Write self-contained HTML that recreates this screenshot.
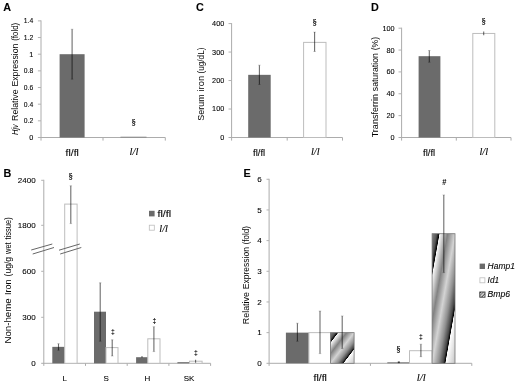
<!DOCTYPE html>
<html><head><meta charset="utf-8"><title>Figure</title>
<style>
html,body{margin:0;padding:0;background:#fff;}
svg{display:block;font-family:"Liberation Sans",sans-serif;}
</style></head>
<body>
<svg width="520" height="385" viewBox="0 0 520 385">
<defs>
<linearGradient id="hg" x1="0" y1="0" x2="1" y2="1">
<stop offset="0" stop-color="#858585"/>
<stop offset="0.10" stop-color="#555"/>
<stop offset="0.155" stop-color="#000"/>
<stop offset="0.168" stop-color="#f8f8f8"/>
<stop offset="0.23" stop-color="#d0d0d0"/>
<stop offset="0.34" stop-color="#828282"/>
<stop offset="0.50" stop-color="#d4d4d4"/>
<stop offset="0.64" stop-color="#909090"/>
<stop offset="0.725" stop-color="#484848"/>
<stop offset="0.765" stop-color="#000"/>
<stop offset="0.777" stop-color="#fff"/>
<stop offset="1" stop-color="#c6c6c6"/>
</linearGradient>
<linearGradient id="hg2" x1="0" y1="0" x2="1" y2="1">
<stop offset="0" stop-color="#858585"/>
<stop offset="0.10" stop-color="#555"/>
<stop offset="0.155" stop-color="#000"/>
<stop offset="0.168" stop-color="#f8f8f8"/>
<stop offset="0.23" stop-color="#d0d0d0"/>
<stop offset="0.34" stop-color="#828282"/>
<stop offset="0.50" stop-color="#d4d4d4"/>
<stop offset="0.64" stop-color="#909090"/>
<stop offset="0.74" stop-color="#484848"/>
<stop offset="0.783" stop-color="#000"/>
<stop offset="0.795" stop-color="#fff"/>
<stop offset="1" stop-color="#c6c6c6"/>
</linearGradient>
</defs>
<rect width="520" height="385" fill="#fff"/>
<g opacity="0.999">
<line x1="41.00" y1="20.38" x2="41.00" y2="140.60" stroke="#acacac" stroke-width="1"/>
<line x1="37.90" y1="137.50" x2="165.30" y2="137.50" stroke="#acacac" stroke-width="1"/>
<text transform="translate(33.20 139.96)" font-size="7.3" text-anchor="end" fill="#000" stroke="#000" stroke-width="0.1">0</text>
<line x1="37.90" y1="120.84" x2="41.00" y2="120.84" stroke="#b2b2b2" stroke-width="1"/>
<text transform="translate(33.20 123.30) scale(0.9300 1)" font-size="7.3" text-anchor="end" fill="#000" stroke="#000" stroke-width="0.1">0.2</text>
<line x1="37.90" y1="104.18" x2="41.00" y2="104.18" stroke="#b2b2b2" stroke-width="1"/>
<text transform="translate(33.20 106.64) scale(0.9300 1)" font-size="7.3" text-anchor="end" fill="#000" stroke="#000" stroke-width="0.1">0.4</text>
<line x1="37.90" y1="87.52" x2="41.00" y2="87.52" stroke="#b2b2b2" stroke-width="1"/>
<text transform="translate(33.20 89.98) scale(0.9300 1)" font-size="7.3" text-anchor="end" fill="#000" stroke="#000" stroke-width="0.1">0.6</text>
<line x1="37.90" y1="70.86" x2="41.00" y2="70.86" stroke="#b2b2b2" stroke-width="1"/>
<text transform="translate(33.20 73.32) scale(0.9300 1)" font-size="7.3" text-anchor="end" fill="#000" stroke="#000" stroke-width="0.1">0.8</text>
<line x1="37.90" y1="54.20" x2="41.00" y2="54.20" stroke="#b2b2b2" stroke-width="1"/>
<text transform="translate(33.20 56.66)" font-size="7.3" text-anchor="end" fill="#000" stroke="#000" stroke-width="0.1">1</text>
<line x1="37.90" y1="37.54" x2="41.00" y2="37.54" stroke="#b2b2b2" stroke-width="1"/>
<text transform="translate(33.20 40.00) scale(0.9300 1)" font-size="7.3" text-anchor="end" fill="#000" stroke="#000" stroke-width="0.1">1.2</text>
<line x1="37.90" y1="20.88" x2="41.00" y2="20.88" stroke="#b2b2b2" stroke-width="1"/>
<text transform="translate(33.20 23.34) scale(0.9300 1)" font-size="7.3" text-anchor="end" fill="#000" stroke="#000" stroke-width="0.1">1.4</text>
<line x1="103.00" y1="137.50" x2="103.00" y2="140.60" stroke="#acacac" stroke-width="1"/>
<line x1="165.30" y1="137.50" x2="165.30" y2="140.60" stroke="#acacac" stroke-width="1"/>
<rect x="59.60" y="54.20" width="25.00" height="83.30" fill="#6b6b6b"/>
<line x1="70.80" y1="29.21" x2="73.40" y2="29.21" stroke="#000" stroke-opacity="0.22" stroke-width="0.9"/>
<line x1="70.80" y1="79.19" x2="73.40" y2="79.19" stroke="#000" stroke-opacity="0.22" stroke-width="0.9"/>
<line x1="72.10" y1="29.21" x2="72.10" y2="79.19" stroke="#000" stroke-opacity="0.58" stroke-width="1.1"/>
<line x1="120.50" y1="137.20" x2="146.50" y2="137.20" stroke="#8a8a8a" stroke-width="1"/>
<text transform="translate(133.80 125.10) scale(0.9800 1)" font-size="9.0" text-anchor="middle" font-family='"Liberation Serif", serif' fill="#000" stroke="#000" stroke-width="0.22">§</text>
<text transform="translate(72.20 155.80) scale(1.1607 1)" font-size="8.9" text-anchor="middle" fill="#000" stroke="#000" stroke-width="0.1">fl/fl</text>
<text transform="translate(134.00 154.70)" font-size="10.7" text-anchor="middle" font-style="italic" font-family='"Liberation Serif", serif' fill="#000" stroke="#000" stroke-width="0.1">l/l</text>
<text transform="translate(7.20 11.20)" font-size="10.8" text-anchor="middle" font-weight="bold" fill="#000" stroke="#000" stroke-width="0.1">A</text>
<text transform="translate(17.90 40.80) rotate(-90) scale(0.9405 1)" font-size="8.4" text-anchor="start" fill="#000" stroke="#000" stroke-width="0">(fold)</text>
<text transform="translate(17.90 86.50) rotate(-90) scale(1.0324 1)" font-size="8.4" text-anchor="start" fill="#000" stroke="#000" stroke-width="0">Expression</text>
<text transform="translate(17.90 120.90) rotate(-90) scale(1.0380 1)" font-size="8.4" text-anchor="start" fill="#000" stroke="#000" stroke-width="0">Relative</text>
<text transform="translate(17.90 135.00) rotate(-90) scale(0.8902 1)" font-size="8.4" text-anchor="start" font-style="italic" fill="#000" stroke="#000" stroke-width="0">Hjv</text>
<line x1="231.60" y1="23.08" x2="231.60" y2="140.60" stroke="#acacac" stroke-width="1"/>
<line x1="228.50" y1="137.50" x2="342.50" y2="137.50" stroke="#acacac" stroke-width="1"/>
<text transform="translate(224.30 139.96)" font-size="7.3" text-anchor="end" fill="#000" stroke="#000" stroke-width="0.1">0</text>
<line x1="228.50" y1="109.02" x2="231.60" y2="109.02" stroke="#b2b2b2" stroke-width="1"/>
<text transform="translate(224.30 111.48)" font-size="7.3" text-anchor="end" fill="#000" stroke="#000" stroke-width="0.1">100</text>
<line x1="228.50" y1="80.54" x2="231.60" y2="80.54" stroke="#b2b2b2" stroke-width="1"/>
<text transform="translate(224.30 83.00)" font-size="7.3" text-anchor="end" fill="#000" stroke="#000" stroke-width="0.1">200</text>
<line x1="228.50" y1="52.06" x2="231.60" y2="52.06" stroke="#b2b2b2" stroke-width="1"/>
<text transform="translate(224.30 54.52)" font-size="7.3" text-anchor="end" fill="#000" stroke="#000" stroke-width="0.1">300</text>
<line x1="228.50" y1="23.58" x2="231.60" y2="23.58" stroke="#b2b2b2" stroke-width="1"/>
<text transform="translate(224.30 26.04)" font-size="7.3" text-anchor="end" fill="#000" stroke="#000" stroke-width="0.1">400</text>
<line x1="287.20" y1="137.50" x2="287.20" y2="140.60" stroke="#acacac" stroke-width="1"/>
<line x1="342.50" y1="137.50" x2="342.50" y2="140.60" stroke="#acacac" stroke-width="1"/>
<rect x="248.20" y="74.84" width="22.50" height="62.66" fill="#6b6b6b"/>
<line x1="258.10" y1="65.16" x2="260.70" y2="65.16" stroke="#000" stroke-opacity="0.22" stroke-width="0.9"/>
<line x1="258.10" y1="84.53" x2="260.70" y2="84.53" stroke="#000" stroke-opacity="0.22" stroke-width="0.9"/>
<line x1="259.40" y1="65.16" x2="259.40" y2="84.53" stroke="#000" stroke-opacity="0.58" stroke-width="1.1"/>
<rect x="303.60" y="42.38" width="22.40" height="95.12" fill="#fff" stroke="#bdbdbd" stroke-width="1"/>
<line x1="313.30" y1="32.12" x2="315.90" y2="32.12" stroke="#000" stroke-opacity="0.22" stroke-width="0.9"/>
<line x1="313.30" y1="51.49" x2="315.90" y2="51.49" stroke="#000" stroke-opacity="0.22" stroke-width="0.9"/>
<line x1="314.60" y1="32.12" x2="314.60" y2="51.49" stroke="#000" stroke-opacity="0.58" stroke-width="1.1"/>
<text transform="translate(314.60 25.10) scale(0.9800 1)" font-size="9.0" text-anchor="middle" font-family='"Liberation Serif", serif' fill="#000" stroke="#000" stroke-width="0.22">§</text>
<text transform="translate(259.10 155.90) scale(1.0727 1)" font-size="8.9" text-anchor="middle" fill="#000" stroke="#000" stroke-width="0.1">fl/fl</text>
<text transform="translate(315.30 155.20)" font-size="10.4" text-anchor="middle" font-style="italic" font-family='"Liberation Serif", serif' fill="#000" stroke="#000" stroke-width="0.1">l/l</text>
<text transform="translate(196.00 11.30)" font-size="10.8" text-anchor="start" font-weight="bold" fill="#000" stroke="#000" stroke-width="0.1">C</text>
<text transform="translate(203.70 73.40) rotate(-90) scale(0.9694 1)" font-size="8.4" text-anchor="start" fill="#000" stroke="#000" stroke-width="0">(ug/dL)</text>
<text transform="translate(203.70 91.50) rotate(-90) scale(1.1137 1)" font-size="8.4" text-anchor="start" fill="#000" stroke="#000" stroke-width="0">iron</text>
<text transform="translate(203.70 120.70) rotate(-90) scale(1.0671 1)" font-size="8.4" text-anchor="start" fill="#000" stroke="#000" stroke-width="0">Serum</text>
<line x1="401.60" y1="27.70" x2="401.60" y2="140.60" stroke="#acacac" stroke-width="1"/>
<line x1="398.50" y1="137.50" x2="511.00" y2="137.50" stroke="#acacac" stroke-width="1"/>
<text transform="translate(394.60 139.96)" font-size="7.3" text-anchor="end" fill="#000" stroke="#000" stroke-width="0.1">0</text>
<line x1="398.50" y1="115.64" x2="401.60" y2="115.64" stroke="#b2b2b2" stroke-width="1"/>
<text transform="translate(394.60 118.10)" font-size="7.3" text-anchor="end" fill="#000" stroke="#000" stroke-width="0.1">20</text>
<line x1="398.50" y1="93.78" x2="401.60" y2="93.78" stroke="#b2b2b2" stroke-width="1"/>
<text transform="translate(394.60 96.24)" font-size="7.3" text-anchor="end" fill="#000" stroke="#000" stroke-width="0.1">40</text>
<line x1="398.50" y1="71.92" x2="401.60" y2="71.92" stroke="#b2b2b2" stroke-width="1"/>
<text transform="translate(394.60 74.38)" font-size="7.3" text-anchor="end" fill="#000" stroke="#000" stroke-width="0.1">60</text>
<line x1="398.50" y1="50.06" x2="401.60" y2="50.06" stroke="#b2b2b2" stroke-width="1"/>
<text transform="translate(394.60 52.52)" font-size="7.3" text-anchor="end" fill="#000" stroke="#000" stroke-width="0.1">80</text>
<line x1="398.50" y1="28.20" x2="401.60" y2="28.20" stroke="#b2b2b2" stroke-width="1"/>
<text transform="translate(394.60 30.66)" font-size="7.3" text-anchor="end" fill="#000" stroke="#000" stroke-width="0.1">100</text>
<line x1="456.30" y1="137.50" x2="456.30" y2="140.60" stroke="#acacac" stroke-width="1"/>
<line x1="511.00" y1="137.50" x2="511.00" y2="140.60" stroke="#acacac" stroke-width="1"/>
<rect x="418.60" y="56.18" width="21.80" height="81.32" fill="#6b6b6b"/>
<line x1="428.00" y1="50.50" x2="430.60" y2="50.50" stroke="#000" stroke-opacity="0.22" stroke-width="0.9"/>
<line x1="428.00" y1="62.30" x2="430.60" y2="62.30" stroke="#000" stroke-opacity="0.22" stroke-width="0.9"/>
<line x1="429.30" y1="50.50" x2="429.30" y2="62.30" stroke="#000" stroke-opacity="0.58" stroke-width="1.1"/>
<rect x="472.80" y="33.45" width="22.00" height="104.05" fill="#fff" stroke="#bdbdbd" stroke-width="1"/>
<line x1="483.70" y1="31.48" x2="483.70" y2="35.30" stroke="#000" stroke-opacity="0.58" stroke-width="1.1"/>
<text transform="translate(483.80 24.20) scale(0.9800 1)" font-size="9.0" text-anchor="middle" font-family='"Liberation Serif", serif' fill="#000" stroke="#000" stroke-width="0.22">§</text>
<text transform="translate(429.10 155.90) scale(1.0727 1)" font-size="8.9" text-anchor="middle" fill="#000" stroke="#000" stroke-width="0.1">fl/fl</text>
<text transform="translate(483.80 155.20)" font-size="10.4" text-anchor="middle" font-style="italic" font-family='"Liberation Serif", serif' fill="#000" stroke="#000" stroke-width="0.1">l/l</text>
<text transform="translate(371.00 11.30)" font-size="10.8" text-anchor="start" font-weight="bold" fill="#000" stroke="#000" stroke-width="0.1">D</text>
<text transform="translate(378.00 50.20) rotate(-90) scale(1.0104 1)" font-size="8.4" text-anchor="start" fill="#000" stroke="#000" stroke-width="0">(%)</text>
<text transform="translate(378.00 91.20) rotate(-90) scale(1.0328 1)" font-size="8.4" text-anchor="start" fill="#000" stroke="#000" stroke-width="0">saturation</text>
<text transform="translate(378.00 137.30) rotate(-90) scale(1.0745 1)" font-size="8.4" text-anchor="start" fill="#000" stroke="#000" stroke-width="0">Transferrin</text>
<line x1="43.80" y1="179.80" x2="43.80" y2="365.90" stroke="#acacac" stroke-width="1"/>
<line x1="41.20" y1="363.30" x2="210.60" y2="363.30" stroke="#acacac" stroke-width="1"/>
<text transform="translate(35.60 366.01)" font-size="8.0" text-anchor="end" fill="#000" stroke="#000" stroke-width="0.1">0</text>
<line x1="41.20" y1="317.30" x2="43.80" y2="317.30" stroke="#b2b2b2" stroke-width="1"/>
<text transform="translate(35.60 320.01)" font-size="8.0" text-anchor="end" fill="#000" stroke="#000" stroke-width="0.1">300</text>
<line x1="41.20" y1="271.30" x2="43.80" y2="271.30" stroke="#b2b2b2" stroke-width="1"/>
<text transform="translate(35.60 274.01)" font-size="8.0" text-anchor="end" fill="#000" stroke="#000" stroke-width="0.1">600</text>
<line x1="41.20" y1="225.30" x2="43.80" y2="225.30" stroke="#b2b2b2" stroke-width="1"/>
<text transform="translate(35.60 228.01)" font-size="8.0" text-anchor="end" fill="#000" stroke="#000" stroke-width="0.1">1800</text>
<line x1="41.20" y1="180.30" x2="43.80" y2="180.30" stroke="#b2b2b2" stroke-width="1"/>
<text transform="translate(35.60 183.01)" font-size="8.0" text-anchor="end" fill="#000" stroke="#000" stroke-width="0.1">2400</text>
<line x1="85.50" y1="363.30" x2="85.50" y2="365.90" stroke="#acacac" stroke-width="1"/>
<line x1="127.20" y1="363.30" x2="127.20" y2="365.90" stroke="#acacac" stroke-width="1"/>
<line x1="168.90" y1="363.30" x2="168.90" y2="365.90" stroke="#acacac" stroke-width="1"/>
<line x1="210.60" y1="363.30" x2="210.60" y2="365.90" stroke="#acacac" stroke-width="1"/>
<rect x="52.30" y="346.85" width="12.40" height="16.45" fill="#6b6b6b"/>
<line x1="57.20" y1="343.70" x2="59.80" y2="343.70" stroke="#000" stroke-opacity="0.22" stroke-width="0.9"/>
<line x1="57.20" y1="350.30" x2="59.80" y2="350.30" stroke="#000" stroke-opacity="0.22" stroke-width="0.9"/>
<line x1="58.50" y1="343.70" x2="58.50" y2="350.30" stroke="#000" stroke-opacity="0.58" stroke-width="1.1"/>
<rect x="64.70" y="204.10" width="12.40" height="159.20" fill="#fff" stroke="#bdbdbd" stroke-width="1"/>
<line x1="69.50" y1="185.80" x2="72.10" y2="185.80" stroke="#000" stroke-opacity="0.22" stroke-width="0.9"/>
<line x1="69.50" y1="223.60" x2="72.10" y2="223.60" stroke="#000" stroke-opacity="0.22" stroke-width="0.9"/>
<line x1="70.80" y1="185.80" x2="70.80" y2="223.60" stroke="#000" stroke-opacity="0.58" stroke-width="1.1"/>
<text transform="translate(70.80 178.80) scale(0.9800 1)" font-size="9.0" text-anchor="middle" font-family='"Liberation Serif", serif' fill="#000" stroke="#000" stroke-width="0.22">§</text>
<rect x="94.00" y="311.70" width="12.00" height="51.60" fill="#6b6b6b"/>
<line x1="98.90" y1="282.80" x2="101.50" y2="282.80" stroke="#000" stroke-opacity="0.22" stroke-width="0.9"/>
<line x1="98.90" y1="341.30" x2="101.50" y2="341.30" stroke="#000" stroke-opacity="0.22" stroke-width="0.9"/>
<line x1="100.20" y1="282.80" x2="100.20" y2="341.30" stroke="#000" stroke-opacity="0.58" stroke-width="1.1"/>
<rect x="106.00" y="347.60" width="12.00" height="15.70" fill="#fff" stroke="#bdbdbd" stroke-width="1"/>
<line x1="110.90" y1="339.80" x2="113.50" y2="339.80" stroke="#000" stroke-opacity="0.22" stroke-width="0.9"/>
<line x1="110.90" y1="356.00" x2="113.50" y2="356.00" stroke="#000" stroke-opacity="0.22" stroke-width="0.9"/>
<line x1="112.20" y1="339.80" x2="112.20" y2="356.00" stroke="#000" stroke-opacity="0.58" stroke-width="1.1"/>
<text transform="translate(112.80 333.50) scale(0.8500 1)" font-size="8.0" text-anchor="middle" font-weight="bold" fill="#000" stroke="#000" stroke-width="0">‡</text>
<rect x="136.10" y="357.20" width="11.70" height="6.10" fill="#6b6b6b"/>
<line x1="142.00" y1="356.00" x2="142.00" y2="357.80" stroke="#000" stroke-opacity="0.58" stroke-width="1.1"/>
<rect x="147.80" y="338.80" width="12.20" height="24.50" fill="#fff" stroke="#bdbdbd" stroke-width="1"/>
<line x1="152.60" y1="326.70" x2="155.20" y2="326.70" stroke="#000" stroke-opacity="0.22" stroke-width="0.9"/>
<line x1="152.60" y1="351.60" x2="155.20" y2="351.60" stroke="#000" stroke-opacity="0.22" stroke-width="0.9"/>
<line x1="153.90" y1="326.70" x2="153.90" y2="351.60" stroke="#000" stroke-opacity="0.58" stroke-width="1.1"/>
<text transform="translate(154.40 322.70) scale(0.8500 1)" font-size="8.0" text-anchor="middle" font-weight="bold" fill="#000" stroke="#000" stroke-width="0">‡</text>
<rect x="177.40" y="362.20" width="12.10" height="1.10" fill="#6b6b6b"/>
<rect x="189.50" y="361.20" width="12.60" height="2.10" fill="#fff" stroke="#bdbdbd" stroke-width="1"/>
<line x1="195.60" y1="359.80" x2="195.60" y2="362.80" stroke="#000" stroke-opacity="0.58" stroke-width="1.1"/>
<text transform="translate(195.80 355.00) scale(0.8500 1)" font-size="8.0" text-anchor="middle" font-weight="bold" fill="#000" stroke="#000" stroke-width="0">‡</text>
<text transform="translate(64.60 381.40)" font-size="8" text-anchor="middle" fill="#000" stroke="#000" stroke-width="0.1">L</text>
<text transform="translate(106.10 381.40)" font-size="8" text-anchor="middle" fill="#000" stroke="#000" stroke-width="0.1">S</text>
<text transform="translate(147.50 381.40)" font-size="8" text-anchor="middle" fill="#000" stroke="#000" stroke-width="0.1">H</text>
<text transform="translate(189.10 381.40)" font-size="8" text-anchor="middle" fill="#000" stroke="#000" stroke-width="0.1">SK</text>
<line x1="31.20" y1="250.00" x2="52.30" y2="244.00" stroke="#666" stroke-width="1"/>
<line x1="32.70" y1="254.00" x2="54.00" y2="247.50" stroke="#666" stroke-width="1"/>
<line x1="59.00" y1="250.20" x2="79.80" y2="244.00" stroke="#666" stroke-width="1"/>
<line x1="60.20" y1="254.00" x2="81.30" y2="247.50" stroke="#666" stroke-width="1"/>
<rect x="149.00" y="210.80" width="5.60" height="5.60" fill="#6b6b6b"/>
<text transform="translate(157.40 216.50) scale(1.2134 1)" font-size="8.9" text-anchor="start" fill="#000" stroke="#000" stroke-width="0.1">fl/fl</text>
<rect x="149.30" y="225.20" width="5.00" height="5.00" fill="#fff" stroke="#bdbdbd" stroke-width="0.8"/>
<text transform="translate(159.30 231.80)" font-size="10.4" text-anchor="start" font-style="italic" font-family='"Liberation Serif", serif' fill="#000" stroke="#000" stroke-width="0.1">l/l</text>
<text transform="translate(3.50 177.00)" font-size="10.8" text-anchor="start" font-weight="bold" fill="#000" stroke="#000" stroke-width="0.1">B</text>
<text transform="translate(10.90 239.50) rotate(-90) scale(0.8973 1)" font-size="8.4" text-anchor="start" fill="#000" stroke="#000" stroke-width="0">tissue)</text>
<text transform="translate(10.90 254.00) rotate(-90) scale(0.8874 1)" font-size="8.4" text-anchor="start" fill="#000" stroke="#000" stroke-width="0">wet</text>
<text transform="translate(10.90 276.40) rotate(-90) scale(1.0185 1)" font-size="8.4" text-anchor="start" fill="#000" stroke="#000" stroke-width="0">(ug/g</text>
<text transform="translate(10.90 295.10) rotate(-90) scale(1.0778 1)" font-size="8.4" text-anchor="start" fill="#000" stroke="#000" stroke-width="0">Iron</text>
<text transform="translate(10.90 343.50) rotate(-90) scale(1.1525 1)" font-size="8.4" text-anchor="start" fill="#000" stroke="#000" stroke-width="0">Non-heme</text>
<line x1="269.10" y1="178.78" x2="269.10" y2="365.90" stroke="#acacac" stroke-width="1"/>
<line x1="266.50" y1="363.30" x2="471.80" y2="363.30" stroke="#acacac" stroke-width="1"/>
<text transform="translate(261.70 366.05)" font-size="8.1" text-anchor="end" fill="#000" stroke="#000" stroke-width="0.1">0</text>
<line x1="266.50" y1="332.63" x2="269.10" y2="332.63" stroke="#b2b2b2" stroke-width="1"/>
<text transform="translate(261.70 335.38)" font-size="8.1" text-anchor="end" fill="#000" stroke="#000" stroke-width="0.1">1</text>
<line x1="266.50" y1="301.96" x2="269.10" y2="301.96" stroke="#b2b2b2" stroke-width="1"/>
<text transform="translate(261.70 304.71)" font-size="8.1" text-anchor="end" fill="#000" stroke="#000" stroke-width="0.1">2</text>
<line x1="266.50" y1="271.29" x2="269.10" y2="271.29" stroke="#b2b2b2" stroke-width="1"/>
<text transform="translate(261.70 274.04)" font-size="8.1" text-anchor="end" fill="#000" stroke="#000" stroke-width="0.1">3</text>
<line x1="266.50" y1="240.62" x2="269.10" y2="240.62" stroke="#b2b2b2" stroke-width="1"/>
<text transform="translate(261.70 243.37)" font-size="8.1" text-anchor="end" fill="#000" stroke="#000" stroke-width="0.1">4</text>
<line x1="266.50" y1="209.95" x2="269.10" y2="209.95" stroke="#b2b2b2" stroke-width="1"/>
<text transform="translate(261.70 212.70)" font-size="8.1" text-anchor="end" fill="#000" stroke="#000" stroke-width="0.1">5</text>
<line x1="266.50" y1="179.28" x2="269.10" y2="179.28" stroke="#b2b2b2" stroke-width="1"/>
<text transform="translate(261.70 182.03)" font-size="8.1" text-anchor="end" fill="#000" stroke="#000" stroke-width="0.1">6</text>
<line x1="370.45" y1="363.30" x2="370.45" y2="365.90" stroke="#acacac" stroke-width="1"/>
<line x1="471.80" y1="363.30" x2="471.80" y2="365.90" stroke="#acacac" stroke-width="1"/>
<rect x="285.90" y="332.63" width="23.00" height="30.67" fill="#6b6b6b"/>
<line x1="296.10" y1="323.20" x2="298.70" y2="323.20" stroke="#000" stroke-opacity="0.22" stroke-width="0.9"/>
<line x1="296.10" y1="341.30" x2="298.70" y2="341.30" stroke="#000" stroke-opacity="0.22" stroke-width="0.9"/>
<line x1="297.40" y1="323.20" x2="297.40" y2="341.30" stroke="#000" stroke-opacity="0.58" stroke-width="1.1"/>
<rect x="308.90" y="332.63" width="21.70" height="30.67" fill="#fff" stroke="#bdbdbd" stroke-width="1"/>
<line x1="318.70" y1="311.00" x2="321.30" y2="311.00" stroke="#000" stroke-opacity="0.22" stroke-width="0.9"/>
<line x1="318.70" y1="353.60" x2="321.30" y2="353.60" stroke="#000" stroke-opacity="0.22" stroke-width="0.9"/>
<line x1="320.00" y1="311.00" x2="320.00" y2="353.60" stroke="#000" stroke-opacity="0.58" stroke-width="1.1"/>
<rect x="330.60" y="332.63" width="23.50" height="30.67" fill="url(#hg)" stroke="#777" stroke-width="0.8"/>
<line x1="340.90" y1="315.90" x2="343.50" y2="315.90" stroke="#000" stroke-opacity="0.22" stroke-width="0.9"/>
<line x1="340.90" y1="348.60" x2="343.50" y2="348.60" stroke="#000" stroke-opacity="0.22" stroke-width="0.9"/>
<line x1="342.20" y1="315.90" x2="342.20" y2="348.60" stroke="#000" stroke-opacity="0.58" stroke-width="1.1"/>
<rect x="387.30" y="362.30" width="22.10" height="1.00" fill="#777"/>
<rect x="397.80" y="361.50" width="2.00" height="1.60" fill="#333"/>
<text transform="translate(398.40 351.60) scale(0.9800 1)" font-size="9.0" text-anchor="middle" font-family='"Liberation Serif", serif' fill="#000" stroke="#000" stroke-width="0.22">§</text>
<rect x="409.50" y="350.70" width="22.60" height="12.60" fill="#fff" stroke="#bdbdbd" stroke-width="1"/>
<line x1="419.60" y1="344.20" x2="422.20" y2="344.20" stroke="#000" stroke-opacity="0.22" stroke-width="0.9"/>
<line x1="419.60" y1="356.70" x2="422.20" y2="356.70" stroke="#000" stroke-opacity="0.22" stroke-width="0.9"/>
<line x1="420.90" y1="344.20" x2="420.90" y2="356.70" stroke="#000" stroke-opacity="0.58" stroke-width="1.1"/>
<text transform="translate(421.00 338.80) scale(0.8500 1)" font-size="8.0" text-anchor="middle" font-weight="bold" fill="#000" stroke="#000" stroke-width="0">‡</text>
<rect x="432.10" y="233.70" width="22.90" height="129.60" fill="url(#hg2)" stroke="#777" stroke-width="0.8"/>
<line x1="442.50" y1="194.90" x2="445.10" y2="194.90" stroke="#000" stroke-opacity="0.22" stroke-width="0.9"/>
<line x1="442.50" y1="272.60" x2="445.10" y2="272.60" stroke="#000" stroke-opacity="0.22" stroke-width="0.9"/>
<line x1="443.80" y1="194.90" x2="443.80" y2="272.60" stroke="#000" stroke-opacity="0.58" stroke-width="1.1"/>
<text transform="translate(444.30 185.20) scale(0.8800 1)" font-size="8.6" text-anchor="middle" font-weight="bold" fill="#000" stroke="#000" stroke-width="0">#</text>
<text transform="translate(320.20 381.20) scale(1.1871 1)" font-size="8.9" text-anchor="middle" fill="#000" stroke="#000" stroke-width="0.1">fl/fl</text>
<text transform="translate(421.30 381.00)" font-size="10.7" text-anchor="middle" font-style="italic" font-family='"Liberation Serif", serif' fill="#000" stroke="#000" stroke-width="0.1">l/l</text>
<text transform="translate(243.60 177.00)" font-size="10.8" text-anchor="start" font-weight="bold" fill="#000" stroke="#000" stroke-width="0.1">E</text>
<text transform="translate(249.00 244.30) rotate(-90) scale(0.9510 1)" font-size="8.4" text-anchor="start" fill="#000" stroke="#000" stroke-width="0">(fold)</text>
<text transform="translate(249.00 289.20) rotate(-90) scale(1.0156 1)" font-size="8.4" text-anchor="start" fill="#000" stroke="#000" stroke-width="0">Expression</text>
<text transform="translate(249.00 324.20) rotate(-90) scale(1.0610 1)" font-size="8.4" text-anchor="start" fill="#000" stroke="#000" stroke-width="0">Relative</text>
<rect x="479.60" y="263.60" width="5.40" height="5.40" fill="#6b6b6b"/>
<text transform="translate(487.60 269.10) scale(1.0203 1)" font-size="8.3" text-anchor="start" font-style="italic" fill="#000" stroke="#000" stroke-width="0.1">Hamp1</text>
<rect x="479.90" y="277.80" width="5.00" height="5.00" fill="#fff" stroke="#bdbdbd" stroke-width="0.8"/>
<text transform="translate(487.60 283.10) scale(0.9967 1)" font-size="8.3" text-anchor="start" font-style="italic" fill="#000" stroke="#000" stroke-width="0.1">Id1</text>
<rect x="479.80" y="292.00" width="5.20" height="5.20" fill="url(#hg)" stroke="#3a3a3a" stroke-width="0.9"/>
<text transform="translate(487.60 297.30) scale(1.0377 1)" font-size="8.3" text-anchor="start" font-style="italic" fill="#000" stroke="#000" stroke-width="0.1">Bmp6</text>
</g>
</svg>
</body></html>
